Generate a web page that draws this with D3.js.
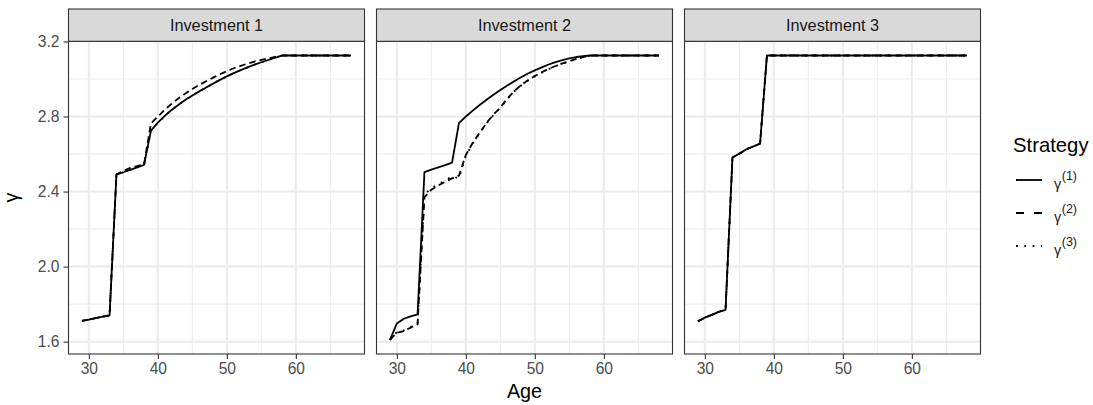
<!DOCTYPE html>
<html>
<head>
<meta charset="utf-8">
<script src="https://cdn.jsdelivr.net/npm/d3@7/dist/d3.min.js"></script>
<style>
  html, body { margin: 0; padding: 0; background: #ffffff; }
  svg { display: block; font-family: "Liberation Sans", Arial, Helvetica, sans-serif; }
</style>
</head>
<body>
<svg id="chart" width="1093" height="405"></svg>
<script>
// Ages on the horizontal axis
const ages = [29,30,31,32,33,34,35,36,37,38,39,40,41,42,43,44,45,46,47,48,
              49,50,51,52,53,54,55,56,57,58,59,60,61,62,63,64,65,66,67,68];

// Panel titles
const investments = ["Investment 1", "Investment 2", "Investment 3"];

// Strategy labels (superscript index of gamma)
const strategies = ["(1)", "(2)", "(3)"];

// Investment 1
const inv1Gamma1 = [1.711,1.718,1.726,1.733,1.740,2.490,2.503,2.516,2.529,2.542,
                    2.725,2.767,2.803,2.835,2.863,2.889,2.912,2.934,2.955,2.975,
                    2.995,3.014,3.031,3.047,3.062,3.076,3.089,3.101,3.113,3.125,
                    3.125,3.125,3.125,3.125,3.125,3.125,3.125,3.125,3.125,3.125];
const inv1Gamma2 = [1.711,1.718,1.726,1.733,1.740,2.492,2.510,2.526,2.536,2.546,
                    2.763,2.800,2.836,2.868,2.897,2.923,2.947,2.968,2.988,3.007,
                    3.025,3.042,3.057,3.070,3.082,3.093,3.102,3.110,3.118,3.125,
                    3.125,3.125,3.125,3.125,3.125,3.125,3.125,3.125,3.125,3.125];
const inv1Gamma3 = [1.711,1.718,1.726,1.733,1.740,2.490,2.503,2.516,2.529,2.542,
                    2.725,2.767,2.803,2.835,2.863,2.889,2.912,2.934,2.955,2.975,
                    2.995,3.014,3.031,3.047,3.062,3.076,3.089,3.101,3.113,3.125,
                    3.125,3.125,3.125,3.125,3.125,3.125,3.125,3.125,3.125,3.125];

// Investment 2
const inv2Gamma1 = [1.610,1.697,1.722,1.735,1.745,2.504,2.517,2.529,2.541,2.554,
                    2.765,2.800,2.831,2.861,2.889,2.916,2.941,2.965,2.988,3.009,
                    3.029,3.046,3.062,3.077,3.090,3.101,3.110,3.117,3.122,3.125,
                    3.125,3.125,3.125,3.125,3.125,3.125,3.125,3.125,3.125,3.125];
const inv2Gamma2 = [1.610,1.648,1.656,1.675,1.692,2.370,2.410,2.432,2.452,2.470,
                    2.485,2.595,2.660,2.713,2.766,2.810,2.848,2.895,2.935,2.967,
                    2.993,3.016,3.036,3.054,3.069,3.083,3.095,3.107,3.117,3.125,
                    3.125,3.125,3.125,3.125,3.125,3.125,3.125,3.125,3.125,3.125];
const inv2Gamma3 = [1.610,1.652,1.660,1.678,1.695,2.385,2.418,2.440,2.458,2.482,
                    2.470,2.590,2.657,2.711,2.764,2.808,2.846,2.893,2.933,2.965,
                    2.991,3.014,3.034,3.052,3.068,3.082,3.094,3.106,3.116,3.125,
                    3.125,3.125,3.125,3.125,3.125,3.125,3.125,3.125,3.125,3.125];

// Investment 3
const inv3Gamma1 = [1.708,1.728,1.743,1.759,1.770,2.581,2.602,2.625,2.640,2.655,
                    3.125,3.125,3.125,3.125,3.125,3.125,3.125,3.125,3.125,3.125,
                    3.125,3.125,3.125,3.125,3.125,3.125,3.125,3.125,3.125,3.125,
                    3.125,3.125,3.125,3.125,3.125,3.125,3.125,3.125,3.125,3.125];
const inv3Gamma2 = [1.708,1.728,1.743,1.759,1.770,2.581,2.602,2.625,2.640,2.655,
                    3.125,3.125,3.125,3.125,3.125,3.125,3.125,3.125,3.125,3.125,
                    3.125,3.125,3.125,3.125,3.125,3.125,3.125,3.125,3.125,3.125,
                    3.125,3.125,3.125,3.125,3.125,3.125,3.125,3.125,3.125,3.125];
const inv3Gamma3 = [1.708,1.728,1.743,1.759,1.770,2.581,2.602,2.625,2.640,2.655,
                    3.125,3.125,3.125,3.125,3.125,3.125,3.125,3.125,3.125,3.125,
                    3.125,3.125,3.125,3.125,3.125,3.125,3.125,3.125,3.125,3.125,
                    3.125,3.125,3.125,3.125,3.125,3.125,3.125,3.125,3.125,3.125];

// Tick values
const xTicks = [30, 40, 50, 60];
const xMinorTicks = [35, 45, 55, 65];
const yTicks = [1.6, 2.0, 2.4, 2.8, 3.2];
const yMinorTicks = [1.8, 2.2, 2.6, 3.0];

const panelSeries = [
  [inv1Gamma1, inv1Gamma2, inv1Gamma3],
  [inv2Gamma1, inv2Gamma2, inv2Gamma3],
  [inv3Gamma1, inv3Gamma2, inv3Gamma3]
];

// Line types per strategy: solid, dashed, dotted
const dashes = [null, "6.5,4", "1.8,6.5"];

// Layout
const panelLeft = 68.5, panelW = 296, panelGap = 12;
const stripTop = 9, stripH = 32.3;
const panelTop = stripTop + stripH, panelBottom = 354;

const tickFont = 15.6, stripFont = 16.3, titleFont = 19.8;
const textGrey = "#4d4d4d";

const svg = d3.select("#chart");

// Shared scales with 5% padding around the data range
const allVals = panelSeries.flat(2);
const yMin = d3.min(allVals), yMax = d3.max(allVals);
const yPad = (yMax - yMin) * 0.05;
const xMin = d3.min(ages), xMax = d3.max(ages);
const xPad = (xMax - xMin) * 0.05;

const y = d3.scaleLinear()
  .domain([yMin - yPad, yMax + yPad])
  .range([panelBottom, panelTop]);

investments.forEach((name, p) => {
  const x0 = panelLeft + p * (panelW + panelGap);
  const x = d3.scaleLinear()
    .domain([xMin - xPad, xMax + xPad])
    .range([x0, x0 + panelW]);

  const g = svg.append("g");

  // panel background
  g.append("rect")
    .attr("x", x0).attr("y", panelTop)
    .attr("width", panelW).attr("height", panelBottom - panelTop)
    .attr("fill", "#ffffff");

  // minor grid
  g.selectAll(".vminor").data(xMinorTicks).join("line")
    .attr("x1", d => x(d)).attr("x2", d => x(d))
    .attr("y1", panelTop).attr("y2", panelBottom)
    .attr("stroke", "#ebebeb").attr("stroke-width", 1);
  g.selectAll(".hminor").data(yMinorTicks).join("line")
    .attr("x1", x0).attr("x2", x0 + panelW)
    .attr("y1", d => y(d)).attr("y2", d => y(d))
    .attr("stroke", "#ebebeb").attr("stroke-width", 1);

  // major grid
  g.selectAll(".vmajor").data(xTicks).join("line")
    .attr("x1", d => x(d)).attr("x2", d => x(d))
    .attr("y1", panelTop).attr("y2", panelBottom)
    .attr("stroke", "#ebebeb").attr("stroke-width", 2);
  g.selectAll(".hmajor").data(yTicks).join("line")
    .attr("x1", x0).attr("x2", x0 + panelW)
    .attr("y1", d => y(d)).attr("y2", d => y(d))
    .attr("stroke", "#ebebeb").attr("stroke-width", 2);

  // series lines
  const line = d3.line()
    .x((d, i) => x(ages[i]))
    .y(d => y(d));

  const clipId = "clip" + p;
  svg.append("clipPath").attr("id", clipId)
    .append("rect")
    .attr("x", x0).attr("y", panelTop)
    .attr("width", panelW).attr("height", panelBottom - panelTop);

  const lines = g.append("g").attr("clip-path", `url(#${clipId})`);
  panelSeries[p].forEach((vals, s) => {
    lines.append("path")
      .datum(vals)
      .attr("d", line)
      .attr("fill", "none")
      .attr("stroke", "#000000")
      .attr("stroke-width", 1.8)
      .attr("stroke-linejoin", "round")
      .attr("stroke-dasharray", dashes[s]);
  });

  // panel border
  g.append("rect")
    .attr("x", x0).attr("y", panelTop)
    .attr("width", panelW).attr("height", panelBottom - panelTop)
    .attr("fill", "none").attr("stroke", "#333333").attr("stroke-width", 1.1);

  // strip
  g.append("rect")
    .attr("x", x0).attr("y", stripTop)
    .attr("width", panelW).attr("height", stripH)
    .attr("fill", "#d9d9d9").attr("stroke", "#333333").attr("stroke-width", 1.1);
  g.append("text")
    .attr("x", x0 + panelW / 2).attr("y", stripTop + stripH / 2)
    .attr("dy", "0.36em")
    .attr("text-anchor", "middle")
    .attr("font-size", stripFont)
    .attr("fill", "#1a1a1a")
    .text(name);

  // x axis
  const xAxis = d3.axisBottom(x).tickValues(xTicks).tickSize(5).tickPadding(4)
    .tickFormat(d3.format("d"));
  const xa = g.append("g").attr("transform", `translate(0,${panelBottom})`).call(xAxis);
  xa.select(".domain").remove();
  xa.selectAll(".tick line").attr("stroke", "#333333").attr("stroke-width", 1.1);
  xa.selectAll(".tick text").attr("font-size", tickFont).attr("fill", textGrey)
    .attr("font-family", "Liberation Sans, Arial, sans-serif");

  // y axis on the first panel only
  if (p === 0) {
    const yAxis = d3.axisLeft(y).tickValues(yTicks).tickSize(5).tickPadding(4)
      .tickFormat(d3.format(".1f"));
    const ya = g.append("g").attr("transform", `translate(${x0},0)`).call(yAxis);
    ya.select(".domain").remove();
    ya.selectAll(".tick line").attr("stroke", "#333333").attr("stroke-width", 1.1);
    ya.selectAll(".tick text").attr("font-size", tickFont).attr("fill", textGrey)
      .attr("font-family", "Liberation Sans, Arial, sans-serif");
  }
});

// axis titles
svg.append("text")
  .attr("x", (panelLeft + panelLeft + 3 * panelW + 2 * panelGap) / 2)
  .attr("y", 398)
  .attr("text-anchor", "middle")
  .attr("font-size", titleFont)
  .attr("fill", "#000000")
  .text("Age");

svg.append("text")
  .attr("transform", `translate(18,${(panelTop + panelBottom) / 2}) rotate(-90)`)
  .attr("text-anchor", "middle")
  .attr("font-size", titleFont)
  .attr("fill", "#000000")
  .text("γ");

// legend
const legend = svg.append("g");
legend.append("text")
  .attr("x", 1013).attr("y", 152)
  .attr("font-size", titleFont + 0.5)
  .attr("fill", "#000000")
  .text("Strategy");

const rowY = [180, 213, 246];
strategies.forEach((lab, s) => {
  legend.append("line")
    .attr("x1", 1016).attr("x2", 1042)
    .attr("y1", rowY[s]).attr("y2", rowY[s])
    .attr("stroke", "#000000").attr("stroke-width", 1.8)
    .attr("stroke-dasharray", s === 1 ? "8,10" : dashes[s]);
  const t = legend.append("text")
    .attr("x", 1054).attr("y", rowY[s] + 9)
    .attr("fill", "#1a1a1a");
  t.append("tspan").attr("font-size", 14.5).text("γ");
  t.append("tspan").attr("font-size", 12.5).attr("dy", -9.5).attr("dx", 0.5).text(lab);
});
</script>
</body>
</html>
